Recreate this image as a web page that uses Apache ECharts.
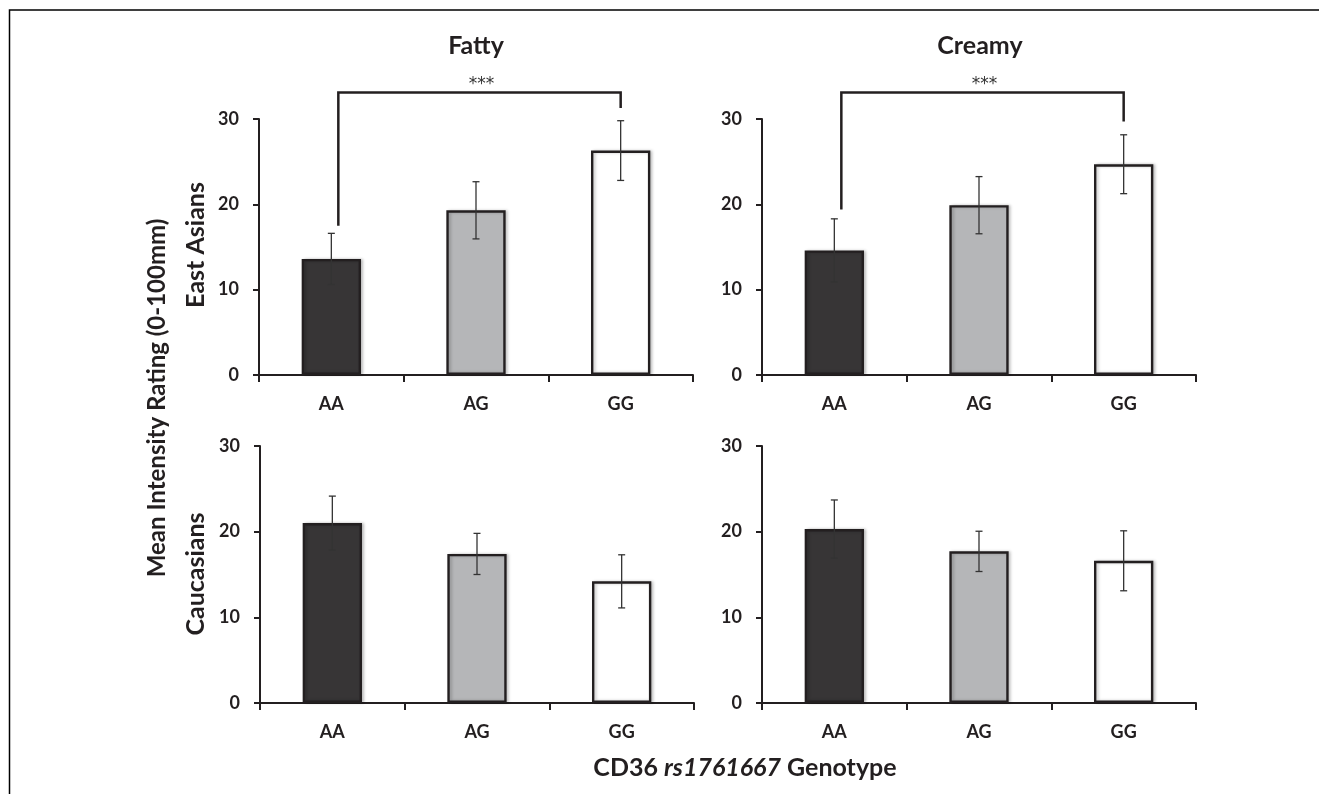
<!DOCTYPE html>
<html>
<head>
<meta charset="utf-8">
<script src="https://cdn.jsdelivr.net/npm/echarts@6/dist/echarts.min.js"></script>
<style>
html,body{margin:0;padding:0;background:#fff;}
#chart{width:1319px;height:794px;}
</style>
</head>
<body>
<div id="chart"></div>
<script>
// ---- data ----
const categories = ['AA', 'AG', 'GG'];
const fattyEastAsian = [13.6, 19.3, 26.3];
const fattyEastAsianErr = [3.0, 3.35, 3.5];
const creamyEastAsian = [14.6, 19.9, 24.7];
const creamyEastAsianErr = [3.7, 3.35, 3.45];
const fattyCaucasian = [21.0, 17.4, 14.2];
const fattyCaucasianErr = [3.15, 2.4, 3.1];
const creamyCaucasian = [20.3, 17.7, 16.6];
const creamyCaucasianErr = [3.4, 2.35, 3.5];
const yMin = 0, yMax = 30, yStep = 10;
// significance brackets: [AA leg bottom, bracket top, GG leg bottom]
const bracketFatty = [17.5, 33.1, 31.3];
const bracketCreamy = [19.4, 33.1, 29.7];
const sigLabel = '***';
const panelTitles = ['Fatty', 'Creamy'];
const rowTitles = ['East Asians', 'Caucasians'];

// ---- styles ----
const barFills = ['#373536', '#b5b6b8', '#ffffff'];
const ink = '#231f20';
const FONT = 'Lato';

const panels = [
  {vals: fattyEastAsian, errs: fattyEastAsianErr, bracket: bracketFatty, grid: {left: 259, top: 119, width: 434, height: 256}},
  {vals: creamyEastAsian, errs: creamyEastAsianErr, bracket: bracketCreamy, grid: {left: 762, top: 119, width: 434, height: 256}},
  {vals: fattyCaucasian, errs: fattyCaucasianErr, bracket: null, grid: {left: 260, top: 446, width: 434, height: 257}},
  {vals: creamyCaucasian, errs: creamyCaucasianErr, bracket: null, grid: {left: 762, top: 446, width: 434, height: 257}}
];

const series = [];
panels.forEach((p, i) => {
  series.push({
    type: 'bar', xAxisIndex: i, yAxisIndex: i, barWidth: '41%',
    data: p.vals.map((v, k) => ({value: v, itemStyle: {color: barFills[k]}})),
    itemStyle: {borderColor: ink, borderWidth: 2.4, shadowColor: 'rgba(0,0,0,0.22)', shadowBlur: 3, shadowOffsetX: 2},
    emphasis: {disabled: true}, silent: true
  });
  series.push({
    type: 'custom', xAxisIndex: i, yAxisIndex: i, z: 5, silent: true,
    data: p.vals.map((v, k) => [k, v - p.errs[k], v + p.errs[k]]),
    encode: {x: 0, y: [1, 2]},
    renderItem: function (params, api) {
      const x = api.value(0);
      const lo = api.coord([x, api.value(1)]);
      const hi = api.coord([x, api.value(2)]);
      const c = 3.5;
      const st = {stroke: '#333', lineWidth: 1.3};
      return {type: 'group', children: [
        {type: 'line', shape: {x1: hi[0], y1: hi[1], x2: lo[0], y2: lo[1]}, style: st},
        {type: 'line', shape: {x1: hi[0] - c, y1: hi[1], x2: hi[0] + c, y2: hi[1]}, style: st},
        {type: 'line', shape: {x1: lo[0] - c, y1: lo[1], x2: lo[0] + c, y2: lo[1]}, style: st}
      ]};
    }
  });
  if (p.bracket) {
    series.push({
      type: 'custom', xAxisIndex: i, yAxisIndex: i, z: 6, silent: true, clip: false,
      data: [[0, 2, p.bracket[0], p.bracket[1], p.bracket[2]]],
      encode: {x: [0, 1], y: [2, 3, 4]},
      renderItem: function (params, api) {
        const a = api.coord([api.value(0), api.value(2)]);
        const at = api.coord([api.value(0), api.value(3)]);
        const bt = api.coord([api.value(1), api.value(3)]);
        const b = api.coord([api.value(1), api.value(4)]);
        const off = 7;
        return {type: 'group', children: [
          {type: 'polyline', shape: {points: [[a[0] + off, a[1]], [at[0] + off, at[1]], [bt[0], bt[1]], [b[0], b[1]]]},
           style: {stroke: ink, lineWidth: 2.5, fill: null}},
          {type: 'text', x: (at[0] + off + bt[0]) / 2 + 2, y: at[1] - 16,
           style: {text: sigLabel, fontFamily: 'DejaVu Sans', fontSize: 17, fill: '#333', align: 'center', verticalAlign: 'top'}}
        ]};
      }
    });
  }
});

const axisLineStyle = {color: ink, width: 2};
const option = {
  animation: false,
  backgroundColor: '#fff',
  grid: panels.map(p => Object.assign({}, p.grid, {containLabel: false})),
  xAxis: panels.map((p, i) => ({
    type: 'category', gridIndex: i, data: categories,
    axisLine: {show: true, lineStyle: axisLineStyle},
    axisTick: {show: true, length: 7, lineStyle: {color: ink, width: 2}},
    axisLabel: {fontFamily: FONT, fontWeight: 'bold', fontSize: 18, color: ink, margin: 20},
    splitLine: {show: false}
  })),
  yAxis: panels.map((p, i) => ({
    type: 'value', gridIndex: i, min: yMin, max: yMax, interval: yStep,
    axisLine: {show: true, lineStyle: axisLineStyle},
    axisTick: {show: true, length: 6, lineStyle: {color: ink, width: 2}},
    axisLabel: {fontFamily: FONT, fontWeight: 'bold', fontSize: 18, color: ink, margin: 20},
    splitLine: {show: false}
  })),
  series: series,
  graphic: [
    {type: 'polyline', shape: {points: [[9.5, 794], [9.5, 10], [1319, 10]]}, style: {stroke: '#000', lineWidth: 1.5, fill: null}, silent: true},
    {type: 'text', x: 476, y: 46, style: {text: panelTitles[0], fontFamily: FONT, fontWeight: 'bold', fontSize: 25, fill: ink, align: 'center', verticalAlign: 'middle'}},
    {type: 'text', x: 980, y: 46, style: {text: panelTitles[1], fontFamily: FONT, fontWeight: 'bold', fontSize: 25, fill: ink, align: 'center', verticalAlign: 'middle'}},
    {type: 'text', x: 196, y: 245, rotation: Math.PI / 2, style: {text: rowTitles[0], fontFamily: FONT, fontWeight: 'bold', fontSize: 25, fill: ink, align: 'center', verticalAlign: 'middle'}},
    {type: 'text', x: 196, y: 574, rotation: Math.PI / 2, style: {text: rowTitles[1], fontFamily: FONT, fontWeight: 'bold', fontSize: 25, fill: ink, align: 'center', verticalAlign: 'middle'}},
    {type: 'text', x: 157, y: 398, rotation: Math.PI / 2, style: {text: 'Mean Intensity Rating (0-100mm)', fontFamily: FONT, fontWeight: 'bold', fontSize: 24, fill: ink, align: 'center', verticalAlign: 'middle'}},
    {type: 'text', x: 745, y: 768, style: {
      text: '{a|CD36 }{b|rs1761667}{a| Genotype}', align: 'center', verticalAlign: 'middle',
      rich: {
        a: {fontFamily: FONT, fontWeight: 'bold', fontSize: 25, fill: ink, color: ink},
        b: {fontFamily: FONT, fontWeight: 'bold', fontStyle: 'italic', fontSize: 25, fill: ink, color: ink}
      }}}
  ]
};

const chart = echarts.init(document.getElementById('chart'), null, {renderer: 'canvas'});
chart.setOption(option);
</script>
</body>
</html>
